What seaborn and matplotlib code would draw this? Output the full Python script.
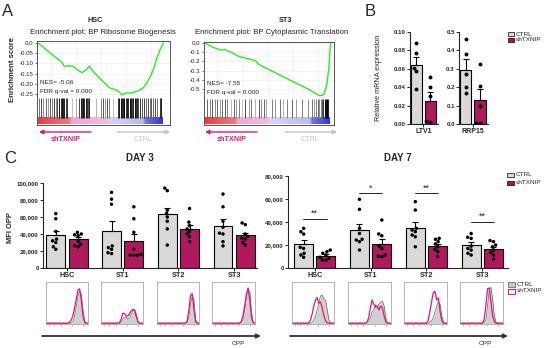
import numpy as np
import pandas as pd
import matplotlib
matplotlib.use('Agg')
import matplotlib.pyplot as plt
import seaborn as sns
from matplotlib.patches import FancyArrowPatch, Rectangle
from matplotlib.colors import LinearSegmentedColormap

# ---------------- DATA ----------------
groups = ['CTRL', 'shTXNIP']
cells = ['HSC', 'ST1', 'ST2', 'ST3']

# Panel A: GSEA running enrichment scores
hsc_rank = [0, 7, 13, 19, 21, 25, 28, 31, 35, 38, 41, 44, 48, 52, 57, 61, 64, 67, 70, 75, 80, 84, 87, 90, 92, 94, 96, 98, 100]
hsc_es = [0.0, -0.035, -0.065, -0.095, -0.115, -0.112, -0.115, -0.13, -0.145, -0.135, -0.113, -0.14, -0.165, -0.19,
          -0.22, -0.228, -0.235, -0.255, -0.245, -0.245, -0.235, -0.22, -0.195, -0.16, -0.13, -0.09, -0.055, -0.025, 0.0]
st3_rank = [0, 8, 13, 16, 21, 27, 35, 40, 43, 51, 59, 67, 75, 83, 88, 91, 93, 95, 97, 98.5, 99.3, 100]
st3_es = [0.0, -0.054, -0.078, -0.072, -0.10, -0.145, -0.174, -0.19, -0.235, -0.29, -0.344, -0.40, -0.453, -0.507,
          -0.55, -0.572, -0.57, -0.545, -0.44, -0.26, -0.08, 0.0]
hsc_hits = [1, 2.5, 4, 6, 8, 9.5, 11, 13, 14.5, 15.5, 17, 18, 19, 20, 21, 22, 23.5, 27, 30, 33,
            34, 35, 36, 37, 38, 39, 40, 41, 46, 50, 52, 53.5, 55, 56.5, 60, 64, 65, 66, 67, 68,
            69, 70, 71, 72, 73, 74, 75, 76, 77, 78, 79, 80, 81.5, 83, 84.5, 86, 87.5, 89, 90.5, 92,
            93.5, 95, 97, 98]
hsc_shades = [0.45, 0.3, 0.55, 0.4, 0.6, 0.35, 0.5, 0.25, 0.55, 0.3,
              0.1, 0.2, 0.05, 0.15, 0.1, 0.25, 0.2, 0.75, 0.65, 0.3,
              0.1, 0.2, 0.05, 0.15, 0.1, 0.2, 0.3, 0.15, 0.7, 0.5,
              0.35, 0.6, 0.3, 0.5, 0.75, 0.2, 0.1, 0.05, 0.15, 0.1,
              0.05, 0.2, 0.1, 0.15, 0.05, 0.1, 0.25, 0.1, 0.05, 0.2,
              0.15, 0.3, 0.2, 0.35, 0.25, 0.4, 0.3, 0.45, 0.35, 0.4,
              0.3, 0.45, 0.2, 0.1]
st3_hits = [2, 4, 6, 8, 10, 12, 14, 16, 18, 21, 23, 25, 27, 30, 32, 35, 37, 40, 43, 45, 47, 49, 53, 56,
            60, 62, 65, 69, 72, 77, 82, 85, 86.5, 88, 89.5, 91, 92, 93, 94, 95, 96, 97, 98]
st3_shades = [0.4, 0.5, 0.35, 0.55, 0.4, 0.6, 0.45, 0.35, 0.5, 0.7, 0.4, 0.6, 0.5, 0.75,
              0.3, 0.6, 0.45, 0.7, 0.35, 0.55, 0.4, 0.65, 0.5, 0.6, 0.45, 0.7, 0.5, 0.4, 0.6,
              0.5, 0.55, 0.45, 0.6, 0.5, 0.4, 0.55, 0.5, 0.35, 0.2, 0.0, 0.05, 0.0, 0.1]

# Panel B: relative mRNA expression
ltv1_ctrl = [0.088, 0.077, 0.061, 0.058, 0.038]
ltv1_sh = [0.051, 0.040, 0.030, 0.003, 0.002]
rrp15_ctrl = [0.46, 0.38, 0.27, 0.20, 0.17]
rrp15_sh = [0.325, 0.205, 0.10, 0.005, 0.005]

# Panel C: MFI OPP
d3_ctrl = [[64000, 58000, 43000, 34000, 32000, 30000, 25000, 22000],
           [89000, 81000, 75000, 26000, 24000, 22000, 18000, 17000],
           [94000, 91000, 68000, 64000, 60000, 55000, 46000, 27000],
           [87000, 72000, 55000, 48000, 41000, 40000, 31000, 26000]]
d3_sh = [[42000, 40000, 39000, 38000, 31000, 28000, 26000, 25000],
         [72000, 58000, 42000, 22000, 16000, 15000, 15000, 15000],
         [70000, 54000, 50000, 46000, 43000, 40000, 37000, 31000],
         [53000, 51000, 40000, 37000, 35000, 34000, 30000, 27000]]
d7_ctrl = [[34500, 31500, 29500, 18000, 17000, 12800, 11300, 9300],
           [59700, 51000, 34500, 30000, 25000, 24300, 22900, 15600],
           [57700, 50400, 34500, 33000, 31600, 28700, 27200, 18500],
           [30000, 26700, 25800, 19000, 17000, 15600, 12800, 11300]]
d7_sh = [[15600, 14200, 12800, 11300, 9300, 8400, 7000, 6700],
         [41700, 29600, 28000, 19000, 17000, 11300, 10400, 9900],
         [25800, 25000, 22900, 20900, 18500, 16200, 14200, 9900],
         [23800, 22900, 20000, 18500, 15600, 13400, 11300, 7500]]
d7_sig = ['**', '*', '**', '**']
d7_sig_y = [42500, 65000, 65000, 40000]

# Flow histograms (normalised counts on the OPP axis)
hist_x = [0.0, 0.20, 0.36, 0.40, 0.44, 0.48, 0.52, 0.56, 0.60, 0.64, 0.68, 0.72, 0.76, 0.80, 0.84, 0.88, 0.92, 0.96, 1.0]
d3_ctrl_hist = [[0.02, 0.02, 0.02, 0.02, 0.02, 0.02, 0.02, 0.02, 0.03, 0.06, 0.2, 0.45, 0.68, 0.82, 0.75, 0.35, 0.08, 0.02, 0.02],
                [0.02, 0.02, 0.02, 0.02, 0.02, 0.05, 0.12, 0.17, 0.17, 0.12, 0.15, 0.25, 0.33, 0.36, 0.25, 0.07, 0.02, 0.02, 0.02],
                [0.02, 0.02, 0.02, 0.02, 0.02, 0.02, 0.02, 0.02, 0.02, 0.02, 0.02, 0.04, 0.2, 0.5, 0.72, 0.6, 0.12, 0.02, 0.02],
                [0.02, 0.02, 0.02, 0.02, 0.02, 0.02, 0.02, 0.02, 0.02, 0.02, 0.04, 0.12, 0.35, 0.65, 0.88, 0.8, 0.3, 0.04, 0.02]]
d3_sh_hist = [[0.02, 0.02, 0.02, 0.02, 0.02, 0.02, 0.02, 0.04, 0.1, 0.2, 0.4, 0.62, 0.85, 0.88, 0.6, 0.2, 0.04, 0.02, 0.02],
              [0.02, 0.02, 0.02, 0.02, 0.03, 0.12, 0.27, 0.26, 0.2, 0.2, 0.26, 0.33, 0.37, 0.34, 0.18, 0.05, 0.02, 0.02, 0.02],
              [0.02, 0.02, 0.02, 0.02, 0.02, 0.02, 0.02, 0.02, 0.02, 0.02, 0.02, 0.08, 0.35, 0.72, 0.76, 0.35, 0.05, 0.02, 0.02],
              [0.02, 0.02, 0.02, 0.02, 0.02, 0.02, 0.02, 0.02, 0.02, 0.02, 0.06, 0.2, 0.45, 0.75, 0.9, 0.6, 0.15, 0.03, 0.02]]
d7_ctrl_hist = [[0.02, 0.02, 0.02, 0.02, 0.02, 0.04, 0.1, 0.2, 0.35, 0.55, 0.7, 0.72, 0.62, 0.6, 0.35, 0.1, 0.03, 0.02, 0.02],
                [0.02, 0.02, 0.02, 0.02, 0.03, 0.06, 0.15, 0.3, 0.35, 0.48, 0.42, 0.5, 0.55, 0.57, 0.45, 0.15, 0.03, 0.02, 0.02],
                [0.02, 0.02, 0.02, 0.02, 0.02, 0.02, 0.02, 0.02, 0.04, 0.08, 0.15, 0.3, 0.45, 0.55, 0.5, 0.2, 0.04, 0.02, 0.02],
                [0.02, 0.02, 0.02, 0.02, 0.02, 0.02, 0.02, 0.03, 0.1, 0.45, 0.85, 0.92, 0.6, 0.2, 0.04, 0.02, 0.02, 0.02, 0.02]]
d7_sh_hist = [[0.02, 0.02, 0.02, 0.03, 0.1, 0.25, 0.45, 0.6, 0.66, 0.52, 0.55, 0.4, 0.2, 0.08, 0.03, 0.02, 0.02, 0.02, 0.02],
              [0.02, 0.02, 0.02, 0.02, 0.05, 0.15, 0.4, 0.6, 0.5, 0.42, 0.45, 0.35, 0.45, 0.4, 0.2, 0.05, 0.02, 0.02, 0.02],
              [0.02, 0.02, 0.02, 0.02, 0.02, 0.02, 0.02, 0.08, 0.3, 0.55, 0.78, 0.82, 0.6, 0.65, 0.3, 0.08, 0.02, 0.02, 0.02],
              [0.02, 0.02, 0.02, 0.02, 0.02, 0.02, 0.02, 0.1, 0.45, 0.88, 0.9, 0.55, 0.2, 0.05, 0.02, 0.02, 0.02, 0.02, 0.02]]

# ---------------- STYLE ----------------
sns.set_style('ticks')
plt.rcParams['font.family'] = ['Liberation Sans', 'DejaVu Sans']
plt.rcParams['axes.linewidth'] = 0.8

CTRL_C = '#d9d9d9'
SH_C = '#c9005c'
PINK = '#e3157c'
GREEN = '#22ee22'
TICK_FS = 4.4

W, H = 550, 348
fig = plt.figure(figsize=(5.5, 3.48), dpi=100)


def box(x0, y0, x1, y1):
    return fig.add_axes([x0 / W, 1 - y1 / H, (x1 - x0) / W, (y1 - y0) / H])


def ftxt(x, y, s, **kw):
    kw.setdefault('ha', 'center')
    kw.setdefault('va', 'center')
    fig.text(x / W, 1 - y / H, s, **kw)


def farrow(x0, y0, x1, y1, color, lw=1.0, ms=6):
    fig.add_artist(FancyArrowPatch((x0 / W, 1 - y0 / H), (x1 / W, 1 - y1 / H), transform=fig.transFigure,
                                   arrowstyle='-|>', mutation_scale=ms, lw=lw, color=color,
                                   shrinkA=0, shrinkB=0))


def frect(x0, y0, x1, y1, fc, ec, lw=0.6):
    fig.add_artist(Rectangle((x0 / W, 1 - y1 / H), (x1 - x0) / W, (y1 - y0) / H, transform=fig.transFigure,
                             fc=fc, ec=ec, lw=lw))


# ---------------- PANEL A ----------------
def gsea(x0, x1, ytop, ysplit, ybot, rank, es, xlim, ylim, yticks, ylabels, hits, shades, stops, nes, fdr):
    ax = box(x0, ytop, x1, ysplit)
    df = pd.DataFrame({'rank': rank, 'es': es})
    sns.lineplot(data=df, x='rank', y='es', ax=ax, color=GREEN, lw=1.0)
    ax.set_xlim(*xlim)
    ax.set_ylim(*ylim)
    ax.set_yticks(yticks)
    ax.set_yticklabels(ylabels, fontsize=TICK_FS, color='#222')
    ax.set_xticks([10, 30, 50, 70, 90])
    ax.set_xticklabels([])
    ax.tick_params(axis='x', length=0)
    ax.tick_params(axis='y', length=1.5, width=0.5, pad=1, color='#444')
    ax.grid(True, color='#ececec', lw=0.4)
    ax.set_xlabel('')
    ax.set_ylabel('')
    for s in ax.spines.values():
        s.set_color('#555')
        s.set_linewidth(0.7)
    ax.spines['bottom'].set_visible(False)
    ax.text(0.02, 0.24, nes, transform=ax.transAxes, fontsize=4.6, color='#222')
    ax.text(0.02, 0.08, fdr, transform=ax.transAxes, fontsize=4.6, color='#222')

    bx = box(x0, ysplit, x1, ybot)
    bx.vlines(hits, 0.25, 1.0, colors=[str(s) for s in shades], lw=0.7)
    cmap = LinearSegmentedColormap.from_list('rank', stops)
    bx.imshow(np.linspace(0, 1, 256)[None, :], extent=(0, 99, 0.0, 0.24), aspect='auto', cmap=cmap)
    bx.set_xlim(*xlim)
    bx.set_ylim(-0.02, 1.0)
    bx.set_xticks([])
    bx.set_yticks([])
    for s in bx.spines.values():
        s.set_color('#555')
        s.set_linewidth(0.7)
    bx.spines['top'].set_visible(False)
    return ax


hsc_stops = [(0, '#f03a3a'), (0.25, '#f07a80'), (0.27, '#f3a6cf'), (0.56, '#f0bedd'),
             (0.58, '#d2d2f6'), (0.84, '#bcbcf2'), (0.86, '#7474ea'), (1.0, '#3434d6')]
st3_stops = [(0, '#f03a3a'), (0.24, '#f07a80'), (0.26, '#f3a6cf'), (0.5, '#f0bedd'),
             (0.52, '#d6d6f6'), (0.84, '#bcbcf2'), (0.86, '#7474ea'), (1.0, '#3434d6')]

gsea(37, 170, 41, 98, 125, hsc_rank, hsc_es, (-0.8, 105.3), (-0.270, 0.0098),
     [0, -0.05, -0.10, -0.15, -0.20, -0.25], ['0.0', '-0.05', '-0.10', '-0.15', '-0.20', '-0.25'],
     hsc_hits, hsc_shades, hsc_stops, 'NES= -5.06', 'FDR q-val = 0.000')
gsea(204, 334, 42, 99, 125, st3_rank, st3_es, (-0.5, 102.5), (-0.609, 0.011),
     [0, -0.1, -0.2, -0.3, -0.4, -0.5], ['0.0', '-0.1', '-0.2', '-0.3', '-0.4', '-0.5'],
     st3_hits, st3_shades, st3_stops, 'NES= -7.55', 'FDR q-val = 0.000')

ftxt(8, 11, 'A', fontsize=12)
ftxt(95, 21, 'HSC', fontsize=5.2, fontweight='bold')
ftxt(103, 33, 'Enrichment plot: BP Ribosome Biogenesis', fontsize=5.6)
ftxt(285, 21, 'ST3', fontsize=5.2, fontweight='bold')
ftxt(272, 33, 'Enrichment plot: BP Cytoplasmic Translation', fontsize=5.6)
ftxt(13, 70, 'Enrichment score', fontsize=5.6, fontweight='bold', rotation=90)

for (a0, a1, t0, b0, b1, t1) in [(91, 39, 66, 117, 170, 143), (257, 205, 232, 285, 337, 310)]:
    farrow(a0, 132, a1, 132, PINK, lw=1.0, ms=6)
    ftxt(t0, 139.5, 'shTXNIP', fontsize=5.2, fontweight='bold', color=PINK)
    farrow(b0, 132, b1, 132, '#c4c4c4', lw=1.0, ms=6)
    ftxt(t1, 139.5, 'CTRL', fontsize=5.2, color='#c4c4c4')

# ---------------- PANEL B ----------------
def prism_axes(ax, ylim, yticks, ylabels, xlim):
    ax.set_ylim(*ylim)
    ax.set_xlim(*xlim)
    ax.set_yticks(yticks)
    ax.set_yticklabels(ylabels, fontsize=TICK_FS, fontweight='bold')
    sns.despine(ax=ax)
    ax.spines['left'].set_bounds(ylim[0], yticks[-1])
    ax.tick_params(axis='y', length=2, width=0.7, pad=1)
    ax.tick_params(axis='x', length=2, width=0.7, pad=1, labelsize=5)
    ax.set_xlabel('')
    ax.set_ylabel('')
    for lab in ax.get_xticklabels():
        lab.set_fontweight('bold')


def mrna_panel(ax, ctrl, sh, gene, ylim, yticks, ylabels):
    df = pd.DataFrame({'group': ['CTRL'] * len(ctrl) + ['shTXNIP'] * len(sh), 'val': ctrl + sh})
    sns.barplot(data=df, x='group', y='val', hue='group', order=groups, hue_order=groups,
                palette=[CTRL_C, SH_C], errorbar=None, edgecolor='black', linewidth=0.8,
                width=0.8, ax=ax, legend=False)
    stats = df.groupby('group')['val'].agg(['mean', 'sem'])
    for i, g in enumerate(groups):
        ax.errorbar(i, stats.loc[g, 'mean'], yerr=[[0], [stats.loc[g, 'sem']]], color='black',
                    lw=0.8, capsize=2, capthick=0.8, zorder=3)
    sns.swarmplot(data=df, x='group', y='val', order=groups, color='black', size=2.8, ax=ax, zorder=4)
    prism_axes(ax, ylim, yticks, ylabels, (-0.46, 1.54))
    ax.set_xticks([0.5])
    ax.set_xticklabels([gene], fontweight='bold', fontsize=5)


axb1 = box(410, 32, 438, 124)
mrna_panel(axb1, ltv1_ctrl, ltv1_sh, 'LTV1', (0, 0.1), [0, 0.02, 0.04, 0.06, 0.08, 0.10],
           ['0.00', '0.02', '0.04', '0.06', '0.08', '0.10'])
axb2 = box(459, 32, 488, 124)
mrna_panel(axb2, rrp15_ctrl, rrp15_sh, 'RRP15', (0, 0.5), [0, 0.1, 0.2, 0.3, 0.4, 0.5],
           ['0.0', '0.1', '0.2', '0.3', '0.4', '0.5'])
ftxt(370, 12, 'B', fontsize=12)
ftxt(378, 78, 'Relative mRNA expression', fontsize=5.2, rotation=90)

for yy, fc, lab in [(34, CTRL_C, 'CTRL'), (39.5, SH_C, 'shTXNIP')]:
    frect(508, yy - 2, 514, yy + 2, fc, 'black', lw=0.5)
    ftxt(516, yy, lab, fontsize=4.6, ha='left')

# ---------------- PANEL C ----------------
def mfi_panel(ax, ctrl_list, sh_list, ylim, yticks, xlim):
    rows = []
    for c, cv, sv in zip(cells, ctrl_list, sh_list):
        rows += [(c, 'CTRL', v) for v in cv] + [(c, 'shTXNIP', v) for v in sv]
    df = pd.DataFrame(rows, columns=['cell', 'group', 'val'])
    sns.barplot(data=df, x='cell', y='val', hue='group', order=cells, hue_order=groups,
                palette=[CTRL_C, SH_C], errorbar=None, edgecolor='black', linewidth=0.8,
                gap=0.15, ax=ax, legend=False)
    stats = df.groupby(['cell', 'group'])['val'].agg(['mean', 'sem'])
    for i, c in enumerate(cells):
        for j, g in enumerate(groups):
            ax.errorbar(i + (j - 0.5) * 0.4, stats.loc[(c, g), 'mean'],
                        yerr=[[0], [stats.loc[(c, g), 'sem']]], color='black', lw=0.8,
                        capsize=2, capthick=0.8, zorder=3)
    sns.swarmplot(data=df, x='cell', y='val', hue='group', order=cells, hue_order=groups,
                  palette=['black', 'black'], dodge=True, size=2.5, ax=ax, legend=False, zorder=4)
    prism_axes(ax, ylim, yticks, ['{:,}'.format(t) for t in yticks], xlim)
    ax.set_xticks(range(len(cells)))
    ax.set_xticklabels(cells, fontweight='bold', fontsize=5.2)


ax3 = box(43, 183, 257, 268)
mfi_panel(ax3, d3_ctrl, d3_sh, (0, 100000), [0, 20000, 40000, 60000, 80000, 100000], (-0.43, 3.41))
ax7 = box(288, 176, 508, 268)
mfi_panel(ax7, d7_ctrl, d7_sh, (0, 80000), [0, 20000, 40000, 60000, 80000], (-0.48, 3.46))
for i, (s, yv) in enumerate(zip(d7_sig, d7_sig_y)):
    ax7.plot([i - 0.21, i + 0.21], [yv, yv], color='black', lw=0.6)
    ax7.text(i, yv + 800, s, ha='center', va='bottom', fontsize=6.5)

ftxt(10, 158, 'C', fontsize=12)
ftxt(140, 158, 'DAY 3', fontsize=7, fontweight='bold')
ftxt(398, 158, 'DAY 7', fontsize=7, fontweight='bold')
ftxt(10, 228, 'MFI OPP', fontsize=5.4, fontweight='bold', rotation=90)

for yy, fc, lab in [(175, CTRL_C, 'CTRL'), (182.5, SH_C, 'shTXNIP')]:
    frect(507, yy - 2, 514, yy + 2, fc, 'black', lw=0.5)
    ftxt(516, yy, lab, fontsize=4.6, ha='left')


def hist_row(boxes, ctrl_list, sh_list):
    for (bx0, bx1), cv, sv in zip(boxes, ctrl_list, sh_list):
        ax = box(bx0, 282, bx1, 324)
        ax.fill_between(hist_x, cv, color='#d0d0d0', lw=0)
        sns.lineplot(x=hist_x, y=cv, ax=ax, color='#666666', lw=0.5)
        sns.lineplot(x=hist_x, y=sv, ax=ax, color=PINK, lw=0.9)
        ax.set_xlim(0, 1)
        ax.set_ylim(0, 1.05)
        ax.set_xticks([0.08, 0.2, 0.35, 0.62, 0.88])
        ax.set_xticklabels([])
        ax.set_yticks([])
        ax.tick_params(axis='x', length=1.2, width=0.4, color='#888')
        for s in ax.spines.values():
            s.set_color('#aaaaaa')
            s.set_linewidth(0.6)


hist_row([(46, 88), (101, 143), (157, 199), (212, 255)], d3_ctrl_hist, d3_sh_hist)
hist_row([(292, 334), (348, 391), (404, 447), (460, 503)], d7_ctrl_hist, d7_sh_hist)

farrow(42, 336, 261, 336, '#333333', lw=1.3, ms=6)
farrow(290, 336, 508, 336, '#333333', lw=1.3, ms=6)
ftxt(238, 343.5, 'OPP', fontsize=4.6)
ftxt(485, 343.5, 'OPP', fontsize=4.6)

frect(508, 282, 515, 287, '#c8c8c8', '#555555', lw=0.5)
ftxt(517, 284.5, 'CTRL', fontsize=4.6, ha='left')
frect(508, 288.5, 515, 293.5, 'white', PINK, lw=0.8)
ftxt(517, 291, 'shTXNIP', fontsize=4.6, ha='left')

fig.savefig('out.png', dpi=100)
